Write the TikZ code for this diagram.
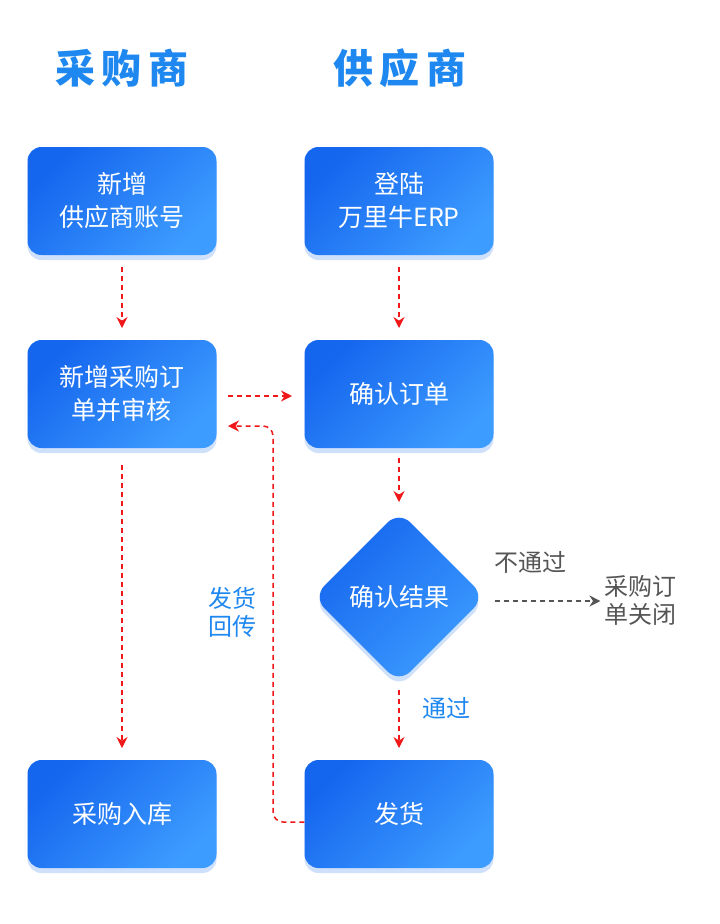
\documentclass[tikz,border=0pt]{standalone}
\usepackage{fontspec}
\setmainfont{Noto Sans CJK SC}
\usetikzlibrary{arrows.meta,shadows,shapes.geometric}
\definecolor{tb}{HTML}{1E88F0}
\definecolor{bA}{HTML}{1566EE}
\definecolor{bB}{HTML}{3D9CFF}
\definecolor{rd}{HTML}{F01818}
\definecolor{gy}{HTML}{555555}
\tikzset{
 box/.style={rounded corners=14pt,minimum width=189pt,minimum height=108pt,left color=bA,right color=bB,shading angle=45,
   text=white,font=\fontsize{25}{33}\selectfont,align=center,drop shadow={shadow xshift=0pt,shadow yshift=-5pt,fill=bA!40,opacity=.5}},
 arr/.style={draw=rd,line width=1.5pt,dashed,dash pattern=on 5pt off 4pt,-{Stealth[length=11pt,width=11pt]}},
 ttl/.style={text=tb,font=\fontsize{40}{44}\selectfont\bfseries},
 lbl/.style={font=\fontsize{24}{28}\selectfont,align=center}
}
\begin{document}
\begin{tikzpicture}[x=1pt,y=-1pt]
\useasboundingbox[fill=white] (0,0) rectangle (720,924);
\node[ttl] (t1) at (122,68) {采\,购\,商};
\node[ttl] (t2) at (400,68) {供\,应\,商};
\node[box] (a1) at (122,201) {新增\\供应商账号};
\node[box] (b1) at (399,201) {登陆\\万里牛ERP};
\node[box] (a2) at (122,394) {新增采购订\\单并审核};
\node[box] (b2) at (399,394) {确认订单};
\node[box] (a3) at (122,814) {采购入库};
\node[box] (b3) at (399,814) {发货};
\node[diamond,rounded corners=16pt,minimum width=172pt,minimum height=172pt,left color=bA,right color=bB,shading angle=45,text=white,font=\fontsize{25}{30}\selectfont,drop shadow={shadow xshift=0pt,shadow yshift=-5pt,fill=bA!40,opacity=.5}] (d) at (399,597) {确认结果};
\node[lbl,text=gy] (no) at (530,562) {不通过};
\node[lbl,text=gy] (cl) at (640,600) {采购订\\单关闭};
\node[lbl,text=tb] (ok) at (446,708) {通过};
\node[lbl,text=tb] (fb) at (232,612) {发货\\回传};
\coordinate (c1) at (273,822);
\coordinate (c2) at (273,426);
\draw[arr] (122,267) -- (122,328);
\draw[arr] (399,267) -- (399,328);
\draw[arr] (228,396) -- (292,396);
\draw[arr] (399,458) -- (399,502);
\draw[arr] (399,690) -- (399,748);
\draw[arr] (122,465) -- (122,748);
\draw[arr,rounded corners=10pt] (b3.west|-c1) -- (c1) -- (c2) -- (228,426);
\draw[draw=gy,line width=1.5pt,dash pattern=on 5pt off 4pt,-{Stealth[length=11pt,width=11pt]}] (495,601) -- (cl.west|-0,601);
\end{tikzpicture}
\end{document}
